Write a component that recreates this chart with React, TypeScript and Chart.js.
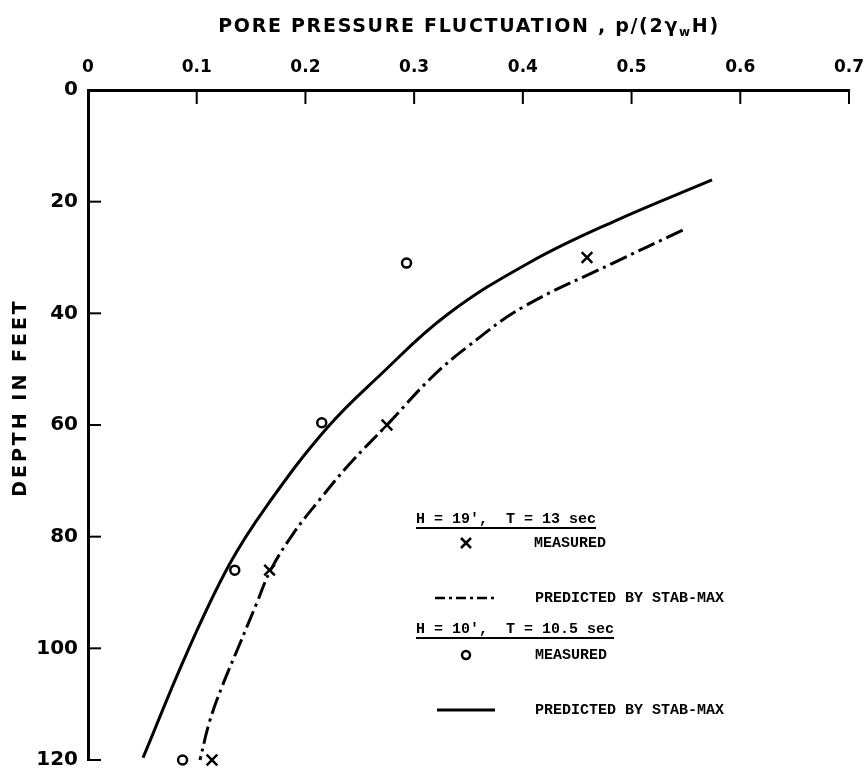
import React, { useEffect, useRef } from 'react';
import { Chart, registerables } from 'chart.js';

Chart.register(...registerables);

const xTickValues = [0, 0.1, 0.2, 0.3, 0.4, 0.5, 0.6, 0.7];
const xTickLabels = ['0', '0.1', '0.2', '0.3', '0.4', '0.5', '0.6', '0.7'];
const yTickValues = [0, 20, 40, 60, 80, 100, 120];
const yTickLabels = ['0', '20', '40', '60', '80', '100', '120'];

// H = 19', T = 13 sec
const measuredH19 = [
  { x: 0.459, y: 30 },
  { x: 0.275, y: 60 },
  { x: 0.167, y: 86 },
  { x: 0.114, y: 120 },
];
const predictedH19 = [
  { x: 0.547, y: 25.1 },
  { x: 0.483, y: 31 },
  { x: 0.4, y: 38.9 },
  { x: 0.349, y: 46 },
  { x: 0.316, y: 51.5 },
  { x: 0.275, y: 60 },
  { x: 0.241, y: 66.9 },
  { x: 0.213, y: 73.4 },
  { x: 0.189, y: 79.4 },
  { x: 0.168, y: 86 },
  { x: 0.155, y: 92 },
  { x: 0.139, y: 99.5 },
  { x: 0.124, y: 106.5 },
  { x: 0.112, y: 113 },
  { x: 0.103, y: 120 },
];

// H = 10', T = 10.5 sec
const measuredH10 = [
  { x: 0.293, y: 31 },
  { x: 0.215, y: 59.6 },
  { x: 0.135, y: 86 },
  { x: 0.087, y: 120 },
];
const predictedH10 = [
  { x: 0.574, y: 16.1 },
  { x: 0.483, y: 23.6 },
  { x: 0.407, y: 30.8 },
  { x: 0.33, y: 40.3 },
  { x: 0.269, y: 51 },
  { x: 0.22, y: 60.5 },
  { x: 0.164, y: 74.6 },
  { x: 0.13, y: 85 },
  { x: 0.091, y: 100.8 },
  { x: 0.0506, y: 119.6 },
];

const DASH_DOT = [18, 5, 3, 5];
const LEGEND_DASH_DOT = [10, 4, 3, 4];
const LETTER_FONT = 'DejaVu Sans';
const TYPE_FONT = 'Liberation Mono';

const decorPlugin = {
  id: 'decor',
  afterDraw(chart: any) {
    const ctx: CanvasRenderingContext2D = chart.ctx;
    const xs = chart.scales.x;
    const ys = chart.scales.y;
    const area = chart.chartArea;
    ctx.save();
    ctx.strokeStyle = '#000';
    ctx.fillStyle = '#000';
    ctx.lineCap = 'butt';

    // inward tick marks
    ctx.lineWidth = 2;
    xTickValues.forEach((v) => {
      if (v === 0) return;
      const px = xs.getPixelForValue(v);
      ctx.beginPath();
      ctx.moveTo(px, area.top);
      ctx.lineTo(px, area.top + 14);
      ctx.stroke();
    });
    yTickValues.forEach((v) => {
      if (v === 0) return;
      const py = ys.getPixelForValue(v);
      ctx.beginPath();
      ctx.moveTo(area.left, py);
      ctx.lineTo(area.left + 13, py);
      ctx.stroke();
    });

    // x axis title with subscript
    (ctx as any).letterSpacing = '1.7px';
    ctx.font = `bold 19px "${LETTER_FONT}"`;
    ctx.textBaseline = 'alphabetic';
    ctx.textAlign = 'left';
    const main = 'PORE PRESSURE FLUCTUATION , p/(2γ';
    const sub = 'w';
    const tail = 'H)';
    const wMain = ctx.measureText(main).width;
    ctx.font = `bold 12px "${LETTER_FONT}"`;
    const wSub = ctx.measureText(sub).width;
    ctx.font = `bold 19px "${LETTER_FONT}"`;
    const wTail = ctx.measureText(tail).width;
    const total = wMain + wSub + wTail;
    let tx = 469 - total / 2;
    const base = 32;
    ctx.fillText(main, tx, base);
    tx += wMain;
    ctx.font = `bold 12px "${LETTER_FONT}"`;
    ctx.fillText(sub, tx, base + 4);
    tx += wSub;
    ctx.font = `bold 19px "${LETTER_FONT}"`;
    ctx.fillText(tail, tx, base);

    // y axis title
    ctx.save();
    ctx.translate(21, 399);
    ctx.rotate(-Math.PI / 2);
    ctx.textAlign = 'center';
    ctx.textBaseline = 'middle';
    (ctx as any).letterSpacing = '3px';
    ctx.font = `bold 19px "${LETTER_FONT}"`;
    ctx.fillText('DEPTH IN FEET', 1.5, 0);
    ctx.restore();

    // legend
    (ctx as any).letterSpacing = '0px';
    ctx.font = `bold 15px "${TYPE_FONT}"`;
    ctx.textAlign = 'left';
    ctx.textBaseline = 'alphabetic';
    const h1 = "H = 19',  T = 13 sec";
    const h2 = "H = 10',  T = 10.5 sec";
    ctx.fillText(h1, 416, 523);
    ctx.fillText(h2, 416, 633);
    ctx.lineWidth = 2;
    ctx.beginPath();
    ctx.moveTo(416, 528);
    ctx.lineTo(416 + ctx.measureText(h1).width, 528);
    ctx.moveTo(416, 638);
    ctx.lineTo(416 + ctx.measureText(h2).width, 638);
    ctx.stroke();

    ctx.textBaseline = 'middle';
    ctx.fillText('MEASURED', 534, 543);
    ctx.fillText('PREDICTED BY STAB-MAX', 535, 598);
    ctx.fillText('MEASURED', 535, 655);
    ctx.fillText('PREDICTED BY STAB-MAX', 535, 710);

    // legend cross
    ctx.lineWidth = 2.5;
    ctx.beginPath();
    ctx.moveTo(461, 538);
    ctx.lineTo(471, 548);
    ctx.moveTo(471, 538);
    ctx.lineTo(461, 548);
    ctx.stroke();
    // legend circle
    ctx.beginPath();
    ctx.arc(466, 655, 4, 0, Math.PI * 2);
    ctx.stroke();
    // legend dash-dot
    ctx.setLineDash(LEGEND_DASH_DOT);
    ctx.lineWidth = 2.5;
    ctx.beginPath();
    ctx.moveTo(435, 598);
    ctx.lineTo(496, 598);
    ctx.stroke();
    ctx.setLineDash([]);
    ctx.lineWidth = 3;
    ctx.beginPath();
    ctx.moveTo(437, 710);
    ctx.lineTo(495, 710);
    ctx.stroke();

    ctx.restore();
  },
};

export default function App() {
  const canvasRef = useRef<HTMLCanvasElement | null>(null);

  useEffect(() => {
    if (!canvasRef.current) return;
    const chart = new Chart(canvasRef.current, {
      type: 'scatter',
      data: {
        datasets: [
          {
            label: "Predicted by STAB-MAX (H = 10', T = 10.5 sec)",
            data: predictedH10,
            showLine: true,
            borderColor: '#000',
            borderWidth: 3,
            pointRadius: 0,
            tension: 0.4,
            clip: false as any,
          },
          {
            label: "Predicted by STAB-MAX (H = 19', T = 13 sec)",
            data: predictedH19,
            showLine: true,
            borderColor: '#000',
            borderWidth: 3,
            borderDash: DASH_DOT,
            pointRadius: 0,
            tension: 0.4,
            clip: false as any,
          },
          {
            label: "Measured (H = 19', T = 13 sec)",
            data: measuredH19,
            pointStyle: 'crossRot',
            pointRadius: 7.5,
            borderColor: '#000',
            pointBorderWidth: 2.5,
            backgroundColor: '#000',
            clip: false as any,
          },
          {
            label: "Measured (H = 10', T = 10.5 sec)",
            data: measuredH10,
            pointStyle: 'circle',
            pointRadius: 4.5,
            borderColor: '#000',
            pointBorderWidth: 2.5,
            backgroundColor: '#fff',
            clip: false as any,
          },
        ],
      },
      options: {
        responsive: false,
        animation: false,
        layout: { padding: { top: 0, left: 0, right: 19, bottom: 14 } },
        plugins: {
          legend: { display: false },
          tooltip: { enabled: false },
        },
        scales: {
          x: {
            type: 'linear',
            position: 'top',
            min: 0,
            max: 0.7,
            afterFit: (s: any) => {
              s.height = 90;
              s.paddingLeft = 0;
              s.paddingRight = 0;
            },
            afterBuildTicks: (s: any) => {
              s.ticks = xTickValues.map((v) => ({ value: v }));
            },
            ticks: {
              padding: 12,
              color: '#000',
              font: { family: LETTER_FONT, size: 17, weight: 'bold' },
              callback: (_v: any, i: number) => xTickLabels[i],
              maxRotation: 0,
            },
            grid: { display: false, drawTicks: false },
            border: { display: true, color: '#000', width: 3 },
          },
          y: {
            type: 'linear',
            reverse: true,
            min: 0,
            max: 120,
            afterFit: (s: any) => {
              s.width = 88;
              s.paddingTop = 0;
              s.paddingBottom = 0;
            },
            afterBuildTicks: (s: any) => {
              s.ticks = yTickValues.map((v) => ({ value: v }));
            },
            ticks: {
              padding: 10,
              color: '#000',
              font: { family: LETTER_FONT, size: 20, weight: 'bold' },
              callback: (_v: any, i: number) => yTickLabels[i],
            },
            grid: { display: false, drawTicks: false },
            border: { display: true, color: '#000', width: 3 },
          },
        },
      },
      plugins: [decorPlugin],
    });
    return () => chart.destroy();
  }, []);

  return (
    <div style={{ position: 'absolute', left: 0, top: 0, width: 868, height: 774, background: '#fff' }}>
      <canvas ref={canvasRef} width={868} height={774} />
    </div>
  );
}
